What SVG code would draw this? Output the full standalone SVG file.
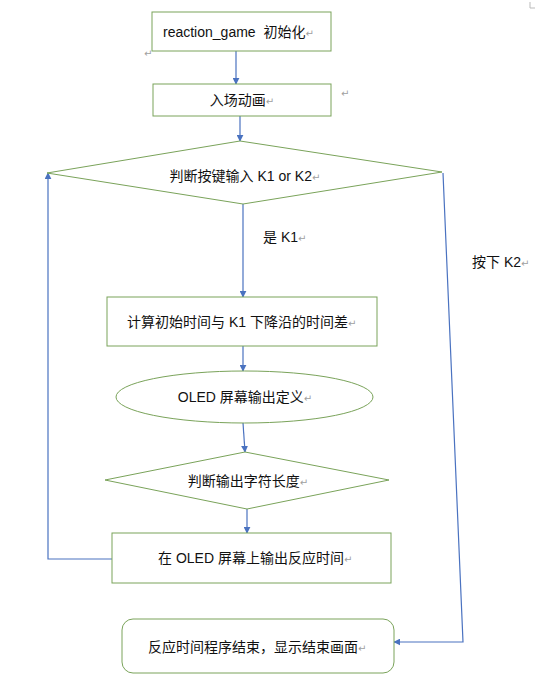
<svg xmlns="http://www.w3.org/2000/svg" width="535" height="688" viewBox="0 0 535 688">
<style>
.n{fill:#fff;stroke:#7aa35a;stroke-width:1}
.c{fill:none;stroke:#4a72c0;stroke-width:1.2}
text{font-family:"Liberation Sans","Noto Sans CJK SC","DejaVu Sans",sans-serif;font-size:14px;fill:#111}
.t{text-anchor:middle}
.m{fill:#a0a0a0;font-family:"DejaVu Sans",sans-serif;font-size:10px}
</style>
<defs>
<marker id="a" viewBox="0 0 10 10" refX="9" refY="5" markerWidth="7" markerHeight="7" orient="auto" markerUnits="userSpaceOnUse">
<path d="M0,0 L10,5 L0,10 z" fill="#4a72c0"/>
</marker>
</defs>
<rect width="535" height="688" fill="#fff"/>
<path d="M530,2 V8 H535" fill="none" stroke="#bbb" stroke-width="1"/>
<text class="m" x="144" y="57">↵</text>
<text class="m" x="341" y="97">↵</text>
<g id="connectors">
<path class="c" d="M236,51 V84" marker-end="url(#a)"/>
<path class="c" d="M240,116 V141" marker-end="url(#a)"/>
<path class="c" d="M243,204 V297" marker-end="url(#a)"/>
<path class="c" d="M243,346 V371" marker-end="url(#a)"/>
<path class="c" d="M243,423 L245,452" marker-end="url(#a)"/>
<path class="c" d="M247,509 V533" marker-end="url(#a)"/>
<path class="c" d="M112,559 H48 V173" marker-end="url(#a)"/>
<path class="c" d="M443,173 L463,642 H394" marker-end="url(#a)"/>
<text x="263" y="242">是 K1<tspan class="m">↵</tspan></text>
<text x="472" y="267">按下 K2<tspan class="m">↵</tspan></text>
</g>
<g id="init">
<rect class="n" x="152" y="12" width="179" height="39"/>
<text x="163" y="37" xml:space="preserve">reaction_game  初始化<tspan class="m">↵</tspan></text>
</g>
<g id="intro">
<rect class="n" x="153" y="84" width="178" height="32"/>
<text class="t" x="242" y="105">入场动画<tspan class="m">↵</tspan></text>
</g>
<g id="judgeKey">
<path class="n" d="M240,141 L442,172 L243,204 L47,173 Z"/>
<text class="t" x="245" y="181">判断按键输入 K1 or K2<tspan class="m">↵</tspan></text>
</g>
<g id="calc">
<rect class="n" x="107" y="297" width="270" height="49"/>
<text x="127" y="327">计算初始时间与 K1 下降沿的时间差<tspan class="m">↵</tspan></text>
</g>
<g id="oledDef">
<ellipse class="n" cx="244.5" cy="397" rx="128.5" ry="26"/>
<text class="t" x="245" y="402">OLED 屏幕输出定义<tspan class="m">↵</tspan></text>
</g>
<g id="judgeLen">
<path class="n" d="M245,452 L389,480 L247,509 L105,480 Z"/>
<text class="t" x="248" y="486">判断输出字符长度<tspan class="m">↵</tspan></text>
</g>
<g id="showTime">
<rect class="n" x="112" y="533" width="279" height="50"/>
<text x="158" y="563">在 OLED 屏幕上输出反应时间<tspan class="m">↵</tspan></text>
</g>
<g id="end">
<rect class="n" x="122" y="619" width="272" height="54" rx="11"/>
<text x="148" y="652">反应时间程序结束，显示结束画面<tspan class="m">↵</tspan></text>
</g>
</svg>
